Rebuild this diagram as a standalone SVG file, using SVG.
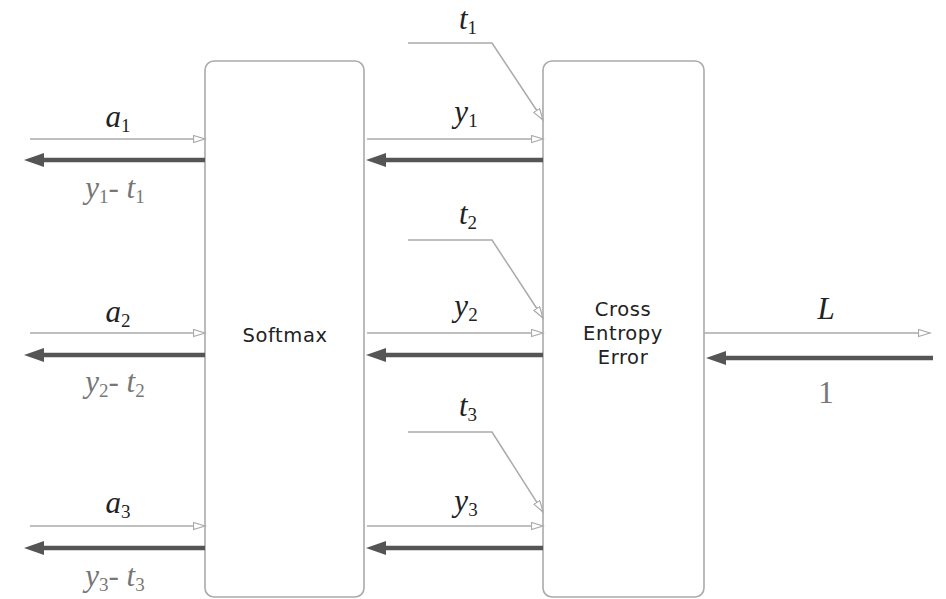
<svg xmlns="http://www.w3.org/2000/svg" width="946" height="599" viewBox="0 0 946 599">
<defs>
<marker id="open" markerUnits="userSpaceOnUse" markerWidth="14" markerHeight="10" refX="12" refY="4" orient="auto"><path d="M0.5,0.5 L12,4 L0.5,7.5 Z" fill="#fff" stroke="#aaa" stroke-width="1.2"/></marker>
<marker id="solid" markerUnits="userSpaceOnUse" markerWidth="22" markerHeight="16" refX="4" refY="7" orient="auto"><path d="M0,0 L20,7 L0,14 Z" fill="#555"/></marker>
</defs>
<style>
.box{fill:#fff;stroke:#aaa;stroke-width:1.6}
.thin{stroke:#aaa;stroke-width:1.5;fill:none;marker-end:url(#open)}
.thick{stroke:#555;stroke-width:4.5;fill:none;marker-end:url(#solid)}
.m{font-family:"Liberation Serif","DejaVu Serif",serif;font-style:italic;font-size:31px;fill:#222;text-anchor:middle}
.g{fill:#777}
.s{font-style:normal;font-size:19px}
.n{font-style:normal}
.lbl{font-family:"DejaVu Sans","Liberation Sans",sans-serif;font-size:19.5px;letter-spacing:0.6px;fill:#222;text-anchor:middle}
</style>
<g id="softmax"><rect class="box" x="205" y="61" width="159" height="536" rx="9"/><text class="lbl" x="285" y="342">Softmax</text></g>
<g id="cee"><rect class="box" x="543" y="61" width="161" height="536" rx="9"/><text class="lbl" x="623" y="316">Cross</text><text class="lbl" x="623" y="340">Entropy</text><text class="lbl" x="623" y="364">Error</text></g>
<g id="connectors">
<line class="thin" x1="30" y1="139" x2="205" y2="139"/>
<line class="thick" x1="205" y1="160" x2="40" y2="160"/>
<line class="thin" x1="30" y1="333" x2="205" y2="333"/>
<line class="thick" x1="205" y1="355" x2="40" y2="355"/>
<line class="thin" x1="30" y1="526" x2="205" y2="526"/>
<line class="thick" x1="205" y1="548" x2="40" y2="548"/>
<line class="thin" x1="367" y1="139" x2="543" y2="139"/>
<line class="thick" x1="543" y1="160" x2="382" y2="160"/>
<line class="thin" x1="367" y1="333" x2="543" y2="333"/>
<line class="thick" x1="543" y1="355" x2="382" y2="355"/>
<line class="thin" x1="367" y1="526" x2="543" y2="526"/>
<line class="thick" x1="543" y1="548" x2="382" y2="548"/>
<polyline class="thin" points="408,43 492,43 543,120"/>
<polyline class="thin" points="408,240 492,240 543,318"/>
<polyline class="thin" points="408,432 492,432 543,512"/>
<line class="thin" x1="704" y1="333" x2="930" y2="333"/>
<line class="thick" x1="933" y1="358" x2="722" y2="358"/>
</g>
<g id="labels">
<text class="m" x="118" y="127">a<tspan class="s" dy="5">1</tspan></text>
<text class="m g" x="115" y="198">y<tspan class="s" dy="5">1</tspan><tspan class="n" dy="-5">- </tspan>t<tspan class="s" dy="5">1</tspan></text>
<text class="m" x="118" y="322">a<tspan class="s" dy="5">2</tspan></text>
<text class="m g" x="115" y="392">y<tspan class="s" dy="5">2</tspan><tspan class="n" dy="-5">- </tspan>t<tspan class="s" dy="5">2</tspan></text>
<text class="m" x="118" y="513">a<tspan class="s" dy="5">3</tspan></text>
<text class="m g" x="115" y="586">y<tspan class="s" dy="5">3</tspan><tspan class="n" dy="-5">- </tspan>t<tspan class="s" dy="5">3</tspan></text>
<text class="m" x="466" y="122">y<tspan class="s" dy="5">1</tspan></text>
<text class="m" x="466" y="316">y<tspan class="s" dy="5">2</tspan></text>
<text class="m" x="466" y="511">y<tspan class="s" dy="5">3</tspan></text>
<text class="m" x="468" y="29">t<tspan class="s" dy="5">1</tspan></text>
<text class="m" x="468" y="224">t<tspan class="s" dy="5">2</tspan></text>
<text class="m" x="468" y="416">t<tspan class="s" dy="5">3</tspan></text>
<text class="m" x="826" y="319">L</text>
<text class="m g n" x="826" y="403">1</text>
</g>
</svg>
